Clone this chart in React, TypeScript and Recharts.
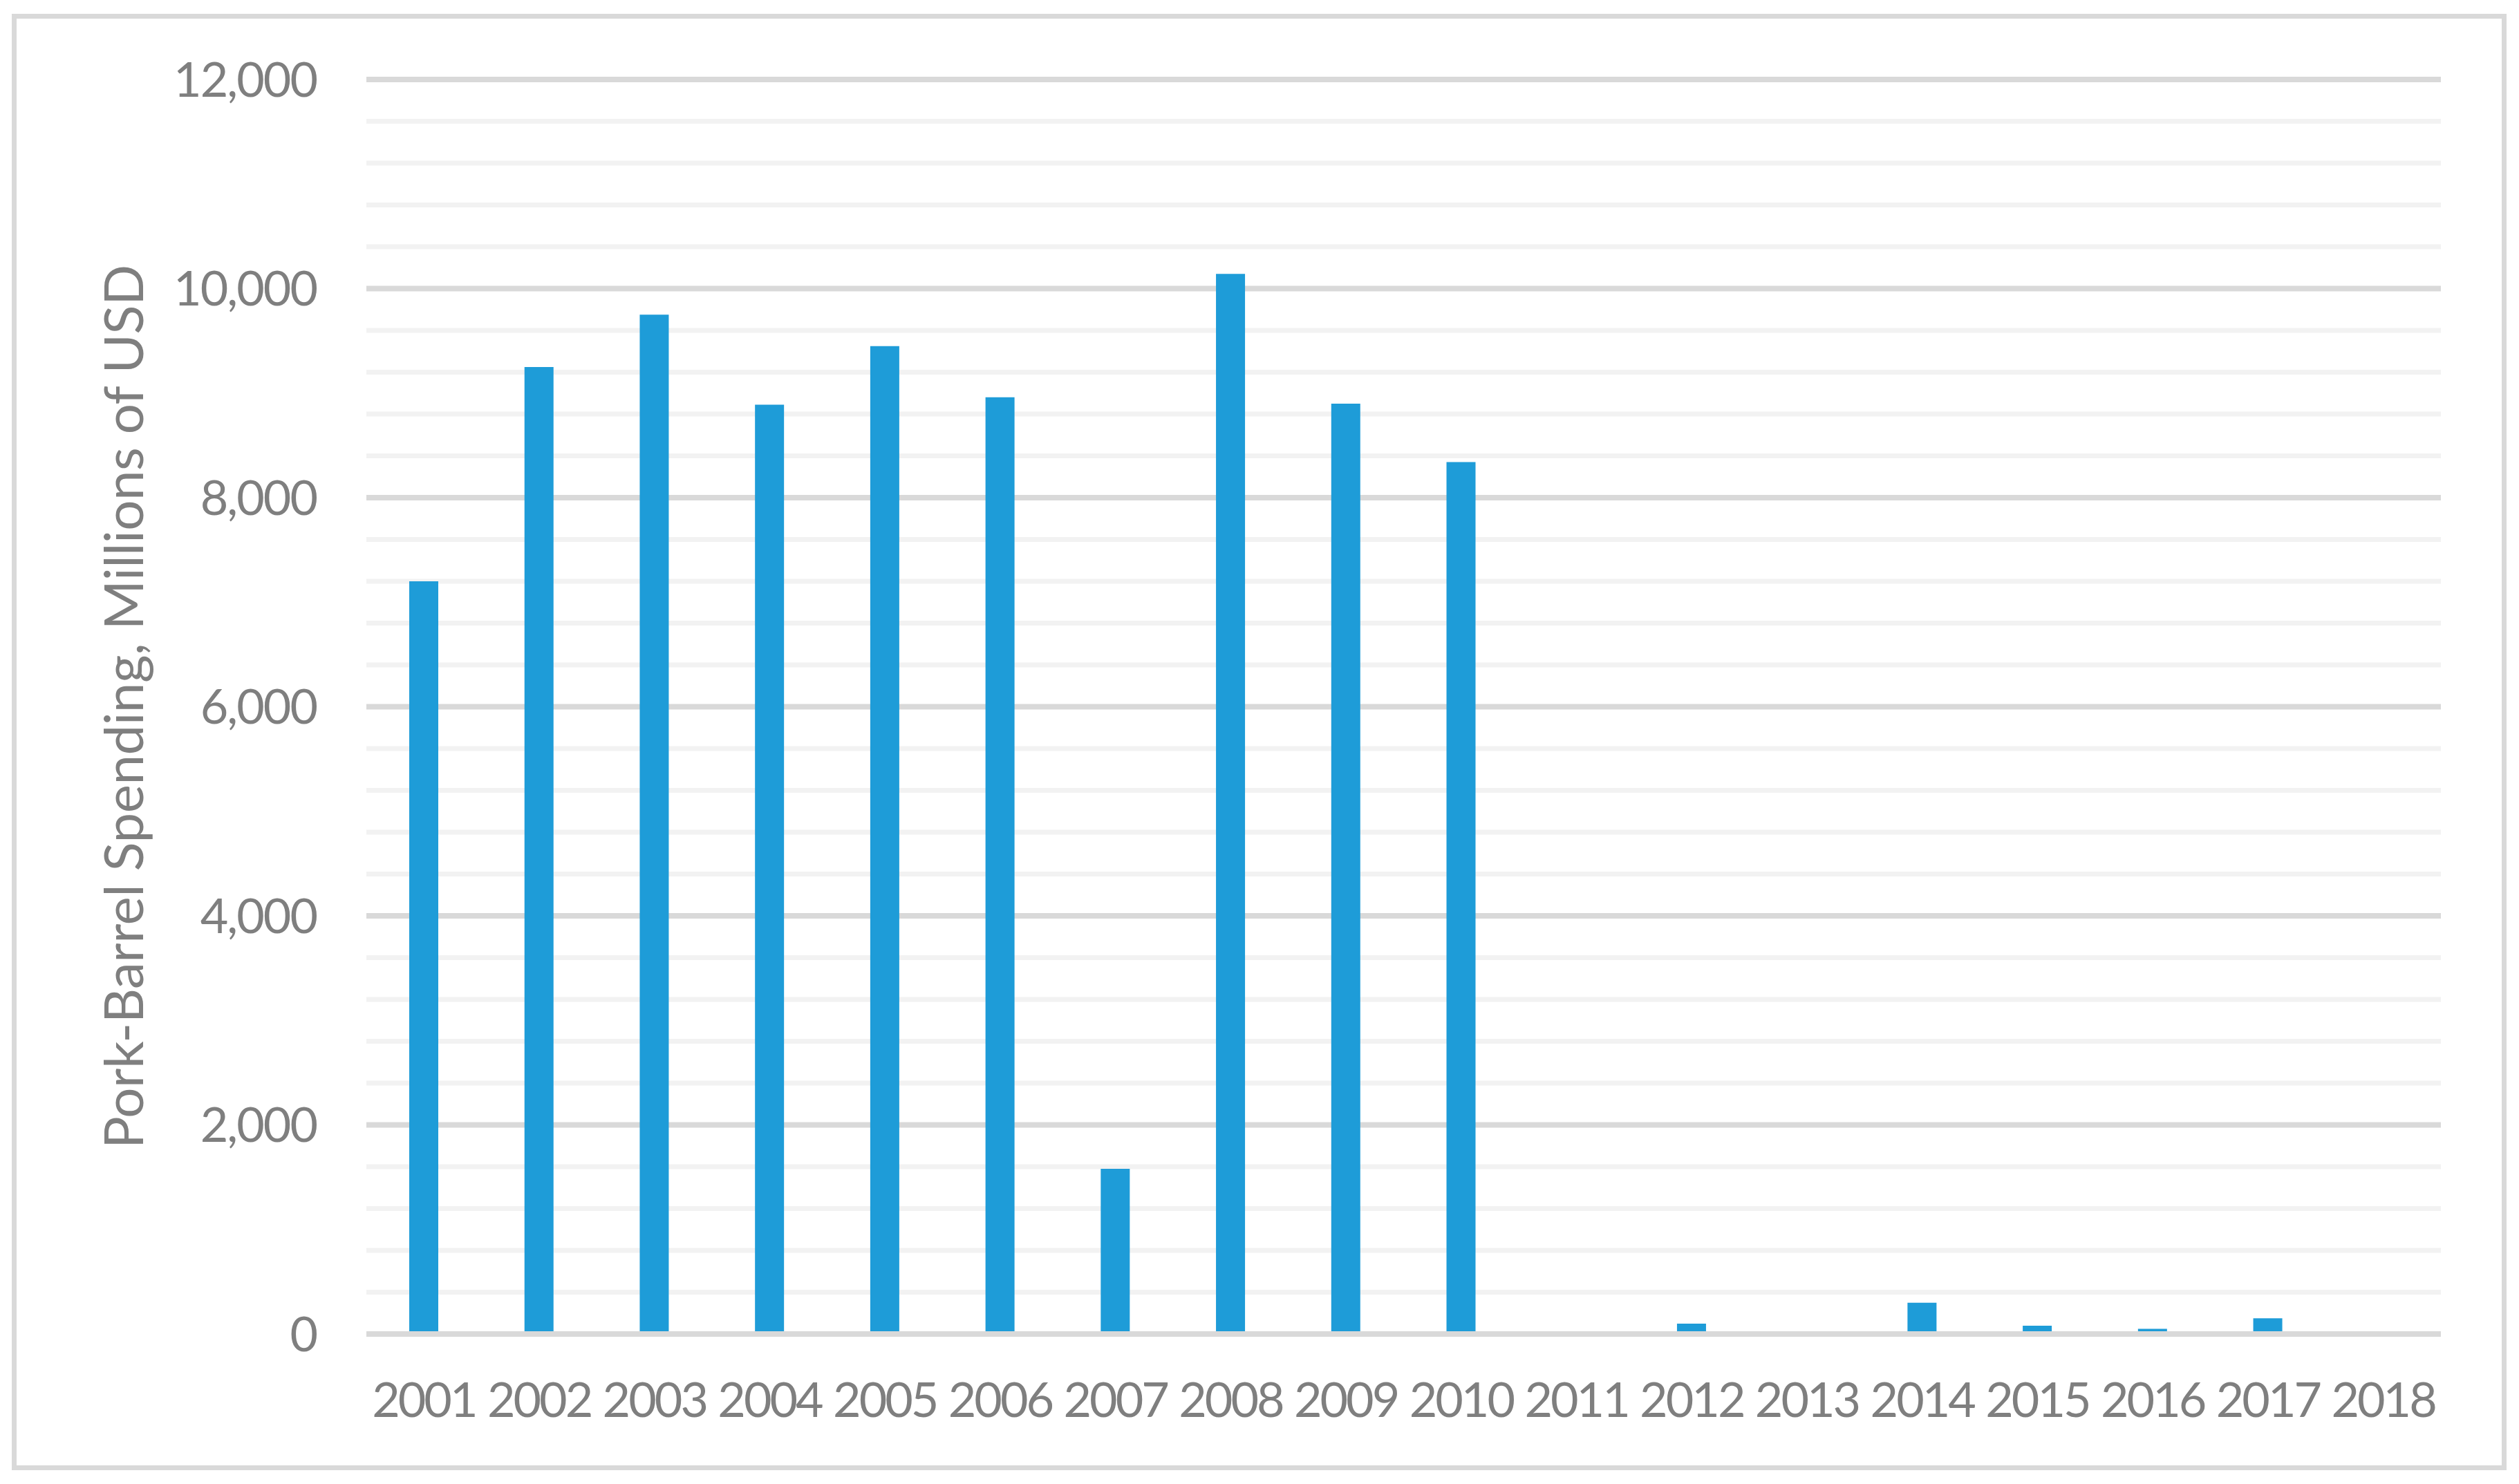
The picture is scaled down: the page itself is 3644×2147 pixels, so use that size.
import * as React from 'react';
import { BarChart, Bar, XAxis, YAxis, CartesianGrid } from 'recharts';

// Pork-barrel spending by year, millions of USD
const years = [
  '2001', '2002', '2003', '2004', '2005', '2006', '2007', '2008', '2009',
  '2010', '2011', '2012', '2013', '2014', '2015', '2016', '2017', '2018'
];
const spending = [
  7200, 9250, 9750, 8890, 9450, 8960, 1580, 10140, 8900,
  8340, 0, 100, 0, 300, 80, 50, 150, 0
];
const majorTicks = [0, 2000, 4000, 6000, 8000, 10000, 12000];
const minorTicks = [
  0, 400, 800, 1200, 1600, 2000, 2400, 2800, 3200, 3600, 4000,
  4400, 4800, 5200, 5600, 6000, 6400, 6800, 7200, 7600, 8000,
  8400, 8800, 9200, 9600, 10000, 10400, 10800, 11200, 11600, 12000
];
const axisTitle = 'Pork-Barrel Spending, Millions of USD';

const FONT = 'Lato, "Open Sans", sans-serif';
const TEXT_COLOR = '#7f7f7f';

// Rotated y-axis title, placed like Excel does it
const AxisTitle = ({ viewBox }: any) => {
  const cx = 207;
  const cy = viewBox.y + viewBox.height / 2;
  return (
    <text
      x={cx}
      y={cy}
      transform={`rotate(-90 ${cx} ${cy})`}
      textAnchor="middle"
      fill={TEXT_COLOR}
      fontSize={78}
      fontFamily={FONT}
      style={{ letterSpacing: '-0.5px' }}
    >
      {axisTitle}
    </text>
  );
};

const App: React.FC = () => {
  const data = years.map((year, i) => ({ year, spending: spending[i] }));

  return (
    <div style={{ position: 'absolute', left: 0, top: 0, width: 3644, height: 2147, background: '#fff' }}>
      <div
        style={{
          position: 'absolute',
          left: 17,
          top: 20,
          width: 3609,
          height: 2107,
          border: '7px solid #d9d9d9',
          boxSizing: 'border-box'
        }}
      />
      <BarChart
        width={3644}
        height={2147}
        data={data}
        margin={{ top: 115, right: 113, bottom: 0, left: 0 }}
        style={{ position: 'absolute', left: 0, top: 0 }}
      >
        {/* minor gridlines every 400 */}
        <CartesianGrid vertical={false} horizontalValues={minorTicks} stroke="#f2f2f2" strokeWidth={7} />
        {/* major gridlines every 2000 */}
        <CartesianGrid vertical={false} horizontalValues={majorTicks} stroke="#d9d9d9" strokeWidth={8} />
        <YAxis
          domain={[0, 12000]}
          ticks={majorTicks}
          width={530}
          axisLine={false}
          tickLine={false}
          tickSize={0}
          tickMargin={72}
          tickFormatter={(v: number) => v.toLocaleString('en-US')}
          tick={{ fill: TEXT_COLOR, fontSize: 70, fontFamily: FONT, style: { letterSpacing: '-2px' } }}
          label={<AxisTitle />}
        />
        <Bar dataKey="spending" fill="#1e9cd8" barSize={42} isAnimationActive={false} />
        <XAxis
          dataKey="year"
          height={217}
          interval={0}
          axisLine={{ stroke: '#d9d9d9', strokeWidth: 8 }}
          tickLine={false}
          tickSize={0}
          tickMargin={70}
          tick={{ fill: TEXT_COLOR, fontSize: 70, fontFamily: FONT, style: { letterSpacing: '-3px' } }}
        />
      </BarChart>
    </div>
  );
};

export default App;
